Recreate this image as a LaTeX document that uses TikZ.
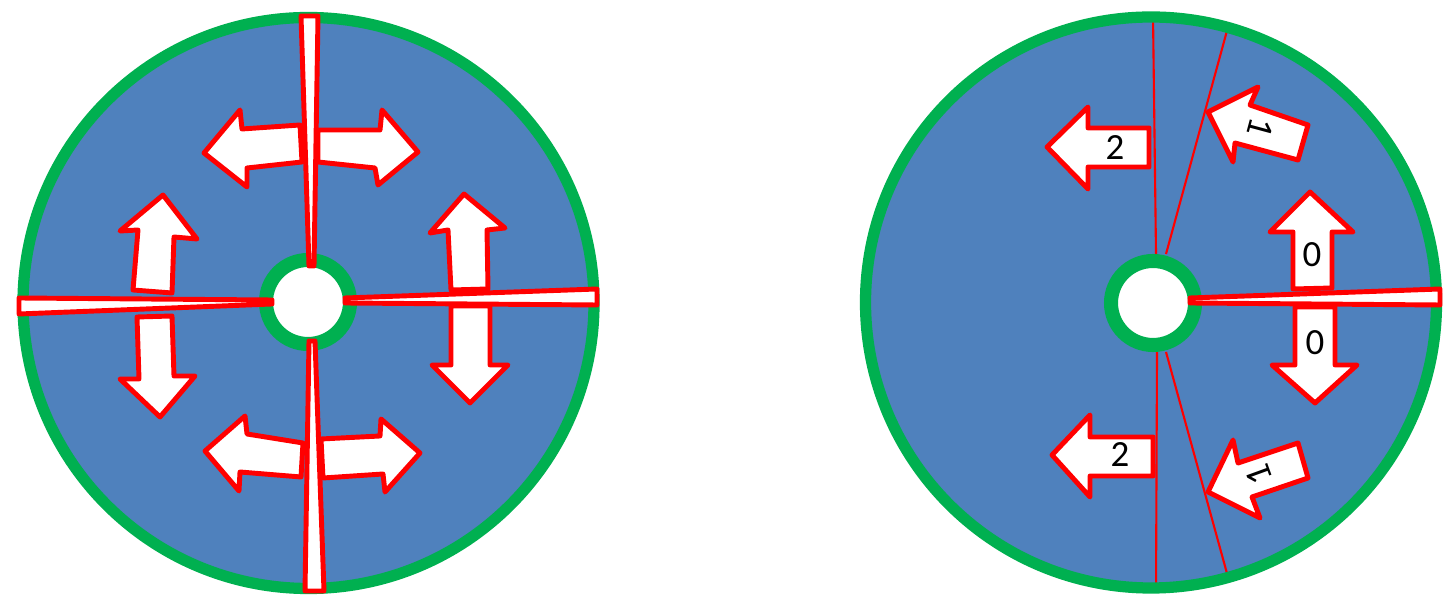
\documentclass[tikz,border=0pt]{standalone}
\usepackage{fontspec}
\setmainfont{Carlito}
\definecolor{discblue}{RGB}{79,129,189}
\definecolor{rimgreen}{RGB}{0,176,80}
\tikzset{
  arrowpiece/.style={fill=white, draw=red, line width=1.4pt, line join=round},
  spokewedge/.style={fill=white, draw=red, line width=1.4pt, line join=round},
  cutline/.style={draw=red, line width=0.6pt},
  rim/.style={draw=rimgreen, line width=3.2pt},
  hole/.style={fill=white, draw=rimgreen, line width=4pt},
  digit/.style={font=\fontsize{10.5}{12}\selectfont, inner sep=0pt},
}

\begin{document}
\begin{tikzpicture}[x=0.01cm, y=-0.01cm]
  \useasboundingbox (0,0) rectangle (1443,595);
  % left disc
  \fill[discblue] (308.5,303) circle (286);
  \draw[rim] (308.5,303) circle (285.5);
  % double arrows, cut by the spokes
  \draw[arrowpiece] (300,125) -- (242,129) -- (240,110) -- (204,153) -- (247,187) -- (247,168) -- (302,162) -- cycle;
  \draw[arrowpiece] (318,130) -- (380,130) -- (382,110) -- (418,152) -- (378,185) -- (375,168) -- (318,162) -- cycle;
  \draw[arrowpiece] (303,443) -- (247,434) -- (245,416) -- (205,451) -- (239,491) -- (240,472) -- (301,477) -- cycle;
  \draw[arrowpiece] (321,439) -- (380,436) -- (381,419) -- (420,453) -- (385,492) -- (383,474) -- (323,478) -- cycle;
  \draw[arrowpiece] (163,195) -- (197,239) -- (174,237) -- (172,293) -- (133,290) -- (138,230) -- (120,231) -- cycle;
  \draw[arrowpiece] (137,317) -- (172,316) -- (174,376) -- (195,376) -- (160,417) -- (120,379) -- (139,379) -- cycle;
  \draw[arrowpiece] (464,194) -- (505,228) -- (487,230) -- (488,289) -- (451,290) -- (448,230) -- (430,233) -- cycle;
  \draw[arrowpiece] (451,306) -- (490,306) -- (490,365) -- (508,365) -- (470,403) -- (432,365) -- (451,365) -- cycle;
  % hole
  \draw[hole] (308,302) circle (42);
  % spokes
  \draw[spokewedge] (301,16) -- (318,16) -- (314,266) -- (309,266) -- cycle;
  \draw[spokewedge] (309,341) -- (315,341) -- (324,591) -- (305,591) -- cycle;
  \draw[spokewedge] (19,298) -- (272,300) -- (272,304) -- (19,314) -- cycle;
  \draw[spokewedge] (345,298) -- (597,289) -- (597,305) -- (345,303) -- cycle;

  % right disc
  \fill[discblue] (1151,302.5) circle (286);
  \begin{scope}
    \clip (1151,302.5) circle (284);
    \draw[cutline] (1153,16) -- (1156,254);
    \draw[cutline] (1231,16) -- (1166,254);
    \draw[cutline] (1157,352) -- (1156,592);
    \draw[cutline] (1166,352) -- (1231,588);
  \end{scope}
  \draw[rim] (1151,302.5) circle (285.5);
  % numbered arrows
  \draw[arrowpiece] (1047,147) -- (1088,107) -- (1088,128) -- (1149,128) -- (1149,167) -- (1088,167) -- (1088,189) -- cycle;
  \draw[arrowpiece] (1052,455) -- (1090,415) -- (1090,437) -- (1153,437) -- (1153,476) -- (1090,476) -- (1090,497) -- cycle;
  \draw[arrowpiece] (1208,112) -- (1258,87) -- (1250,105) -- (1308,125) -- (1298,160) -- (1235,143) -- (1233,162) -- cycle;
  \draw[arrowpiece] (1208,492) -- (1233,440) -- (1238,463) -- (1298,443) -- (1308,478) -- (1252,497) -- (1260,518) -- cycle;
  \draw[arrowpiece] (1310,192) -- (1353,232) -- (1332,232) -- (1332,288) -- (1293,289) -- (1293,232) -- (1270,232) -- cycle;
  \draw[arrowpiece] (1295,307) -- (1335,307) -- (1335,365) -- (1357,365) -- (1315,403) -- (1272,365) -- (1295,365) -- cycle;
  \node[digit] (twoA) at (1115,148) {2};
  \node[digit] (twoB) at (1120,455) {2};
  \node[digit, rotate=-105] (oneA) at (1261,128) {1};
  \node[digit, rotate=110] (oneB) at (1259,475) {1};
  \node[digit] (zeroA) at (1312,255) {0};
  \node[digit] (zeroB) at (1315,343) {0};
  % hole and spoke
  \draw[hole] (1153,303) circle (42);
  \draw[spokewedge] (1190,298) -- (1440,289) -- (1440,305) -- (1190,303) -- cycle;
\end{tikzpicture}
\end{document}
